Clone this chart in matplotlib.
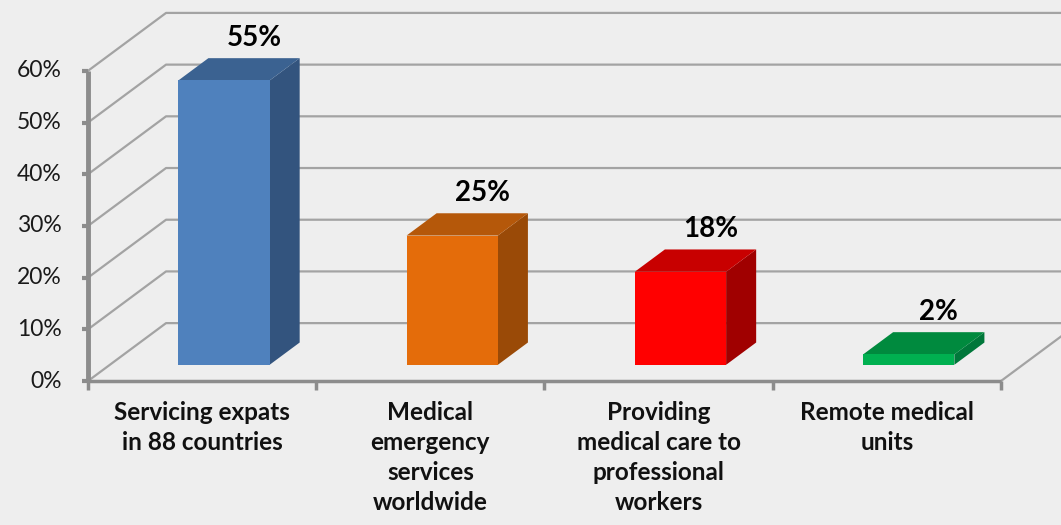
import matplotlib
matplotlib.use("Agg")
import matplotlib.pyplot as plt
from matplotlib.patches import Polygon

categories = ["Servicing expats\nin 88 countries",
              "Medical\nemergency\nservices\nworldwide",
              "Providing\nmedical care to\nprofessional\nworkers",
              "Remote medical\nunits"]
values = [55, 25, 18, 2]
y_ticks = [0, 10, 20, 30, 40, 50, 60]
front_colors = ["#4F81BD", "#E46C0A", "#FF0000", "#00B050"]
top_colors = ["#3B6291", "#B5580A", "#C80000", "#008A3E"]
side_colors = ["#33547E", "#9A4A07", "#A00000", "#00773A"]

# oblique projection: full depth shifts by (DX category units, DY percent)
DX, DY = 0.342, 11.2
BAR_W = 0.40
D0, D1 = 0.28, 0.665  # bar front/back depth fractions
GRID = "#A3A3A3"
AXIS = "#8C8C8C"


def proj(x, y, d):
    return (x + DX * d, y + DY * d)


fig = plt.figure(figsize=(10.61, 5.25), dpi=100)
fig.patch.set_facecolor("#EEEEEE")
ax = fig.add_axes([0, 0, 1, 1])
ax.set_facecolor("#EEEEEE")
ax.set_xlim(-0.3855, 4.263)
ax.set_ylim(-27.85, 73.7)
ax.axis("off")

n = len(categories)
# back wall + left wall gridlines
for t in y_ticks:
    xa, ya = proj(0, t, 0)
    xb, yb = proj(0, t, 1)
    xc, yc = proj(n, t, 1)
    ax.plot([xa, xb, xc], [ya, yb, yc], color=GRID, lw=1.6, zorder=1)
# floor right edge
xa, ya = proj(n, 0, 0)
xb, yb = proj(n, 0, 1)
ax.plot([xa, xb], [ya, yb], color=GRID, lw=1.6, zorder=1)

# axes lines and ticks
ax.plot([0, n], [0, 0], color=AXIS, lw=2.5, zorder=2, solid_capstyle="butt")
ax.plot([0, 0], [0, y_ticks[-1]], color=AXIS, lw=3.5, zorder=2, solid_capstyle="butt")
for t in y_ticks:
    ax.plot([-0.028, 0], [t, t], color=AXIS, lw=3, zorder=2, solid_capstyle="butt")
    ax.text(-0.115, t, f"{t}%", ha="right", va="center", fontsize=16.5,
            family="Lato", color="#1a1a1a")
for i in range(n + 1):
    ax.plot([i, i], [0, -1.7], color=AXIS, lw=2.5, zorder=2, solid_capstyle="butt")

for i, (v, lab) in enumerate(zip(values, categories)):
    x0 = i + 0.5 - BAR_W / 2
    x1 = i + 0.5 + BAR_W / 2
    front = [proj(x0, 0, D0), proj(x1, 0, D0), proj(x1, v, D0), proj(x0, v, D0)]
    side = [proj(x1, 0, D0), proj(x1, 0, D1), proj(x1, v, D1), proj(x1, v, D0)]
    top = [proj(x0, v, D0), proj(x1, v, D0), proj(x1, v, D1), proj(x0, v, D1)]
    ax.add_patch(Polygon(side, closed=True, fc=side_colors[i], ec="none", zorder=3))
    ax.add_patch(Polygon(top, closed=True, fc=top_colors[i], ec="none", zorder=3))
    ax.add_patch(Polygon(front, closed=True, fc=front_colors[i], ec="none", zorder=4))
    lx, ly = proj(i + 0.5, v, D1)
    ax.text(lx, ly + 1.4, f"{v}%", ha="center", va="bottom", fontsize=20,
            fontweight="bold", family="Lato", color="black", zorder=5)
    ax.text(i + 0.5, -3.8, lab, ha="center", va="top", fontsize=17.5,
            fontweight="bold", family="Lato", color="#111111",
            linespacing=1.38)

fig.savefig("out.png", dpi=100, facecolor=fig.get_facecolor())
